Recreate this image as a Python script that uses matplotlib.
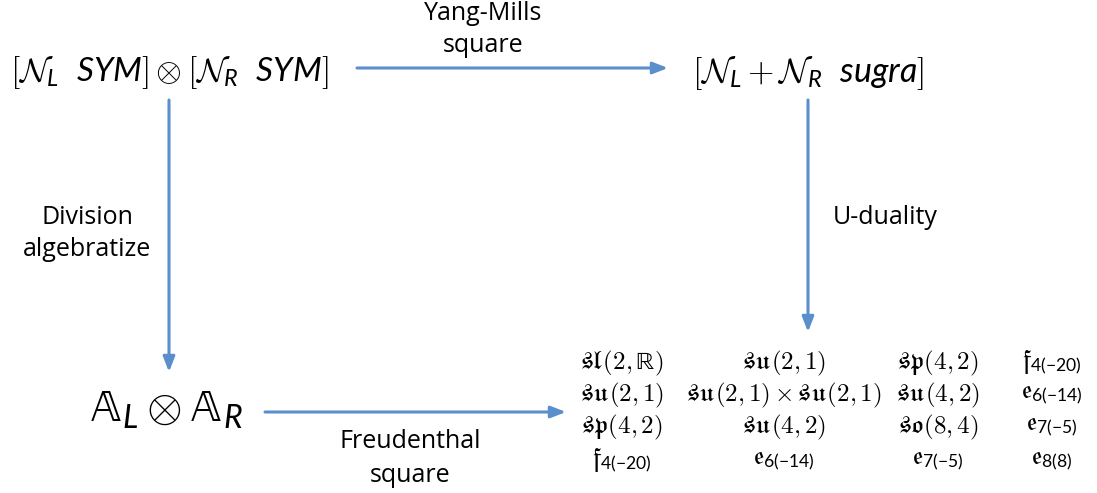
import matplotlib
matplotlib.use("Agg")
import matplotlib.pyplot as plt

plt.rcParams["mathtext.rm"] = "cmr10"
plt.rcParams["mathtext.it"] = "Lato:italic"
plt.rcParams["mathtext.sf"] = "Lato"
plt.rcParams["mathtext.cal"] = "cmsy10"
plt.rcParams["mathtext.fallback"] = "cm"

# node labels of the square
top_left = r"$[\mathcal{N}_L\ \ SYM] \otimes [\mathcal{N}_R\ \ SYM]$"
top_right = r"$[\mathcal{N}_L + \mathcal{N}_R\ \ sugra]$"
bottom_left = r"$\mathrm{\mathbb{A}}_L \otimes \mathrm{\mathbb{A}}_R$"

# arrow captions
top_caption = ["Yang-Mills", "square"]
left_caption = ["Division", "algebratize"]
right_caption = ["U-duality"]
bottom_caption = ["Freudenthal", "square"]

# magic square entries, row by row
row1 = [r"$\mathrm{\mathfrak{sl}}(2,\mathrm{\mathbb{R}})$", r"$\mathrm{\mathfrak{su}}(2,1)$",
        r"$\mathrm{\mathfrak{sp}}(4,2)$", r"$\mathrm{\mathfrak{f}}_{\mathsf{4(-20)}}$"]
row2 = [r"$\mathrm{\mathfrak{su}}(2,1)$",
        r"$\mathrm{\mathfrak{su}}(2,1)\times\mathrm{\mathfrak{su}}(2,1)$",
        r"$\mathrm{\mathfrak{su}}(4,2)$", r"$\mathrm{\mathfrak{e}}_{\mathsf{6(-14)}}$"]
row3 = [r"$\mathrm{\mathfrak{sp}}(4,2)$", r"$\mathrm{\mathfrak{su}}(4,2)$",
        r"$\mathrm{\mathfrak{so}}(8,4)$", r"$\mathrm{\mathfrak{e}}_{\mathsf{7(-5)}}$"]
row4 = [r"$\mathrm{\mathfrak{f}}_{\mathsf{4(-20)}}$",
        r"$\mathrm{\mathfrak{e}}_{\mathsf{6(-14)}}$",
        r"$\mathrm{\mathfrak{e}}_{\mathsf{7(-5)}}$",
        r"$\mathrm{\mathfrak{e}}_{\mathsf{8(8)}}$"]
rows = [row1, row2, row3, row4]

blue = "#5b8fcb"
W, H = 1097, 493

fig = plt.figure(figsize=(W / 100, H / 100), dpi=100)
ax = fig.add_axes([0, 0, 1, 1])
ax.set_xlim(0, W)
ax.set_ylim(H, 0)
ax.axis("off")

def arrow(x0, y0, x1, y1):
    ax.annotate("", xy=(x1, y1), xytext=(x0, y0),
                arrowprops=dict(arrowstyle="-|>,head_length=0.9,head_width=0.35",
                                color=blue, lw=2.2, shrinkA=0, shrinkB=0))

ax.text(169, 73, top_left, fontsize=24, ha="center", va="center", math_fontfamily="custom")
ax.text(808, 73, top_right, fontsize=24.5, ha="center", va="center", math_fontfamily="custom")
ax.text(165, 409, bottom_left, fontsize=33, ha="center", va="center", math_fontfamily="custom")

arrow(357, 68, 668, 68)
arrow(169, 100, 169, 372)
arrow(808, 100, 808, 332)
arrow(265, 412, 566, 412)

cap = dict(fontsize=18, ha="center", va="center", family="Open Sans")
for i, s in enumerate(top_caption):
    ax.text(483, 14 + i * 32, s, **cap)
for i, s in enumerate(left_caption):
    ax.text(87, 217 + i * 33, s, **cap)
for i, s in enumerate(right_caption):
    ax.text(885, 217 + i * 33, s, **cap)
for i, s in enumerate(bottom_caption):
    ax.text(410, 441 + i * 35, s, **cap)

col_x = [622, 784, 938, 1052]
row_y = [363, 395, 427, 461]
for r, row in enumerate(rows):
    for c, s in enumerate(row):
        ax.text(col_x[c], row_y[r], s, fontsize=18, ha="center", va="center",
                math_fontfamily="custom")

fig.savefig("out.png", dpi=100)
